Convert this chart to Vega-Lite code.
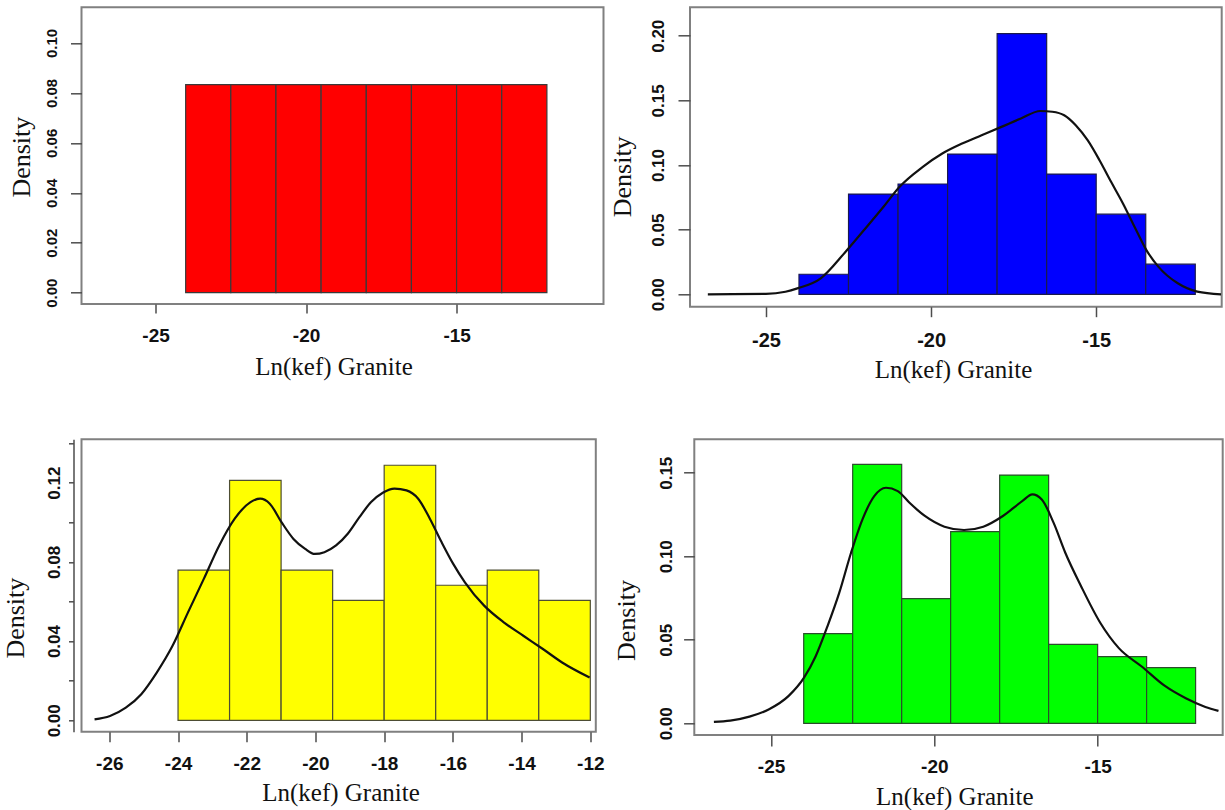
{
  "$schema": "https://vega.github.io/schema/vega-lite/v6.json",
  "background": "white",
  "padding": {"left": 1.5, "top": 6.3, "right": 0, "bottom": 0},
  "datasets": {
    "hist": [
      {"panel": "a", "x": -24, "xe": -22.5, "density": 0.0833},
      {"panel": "a", "x": -22.5, "xe": -21, "density": 0.0833},
      {"panel": "a", "x": -21, "xe": -19.5, "density": 0.0833},
      {"panel": "a", "x": -19.5, "xe": -18, "density": 0.0833},
      {"panel": "a", "x": -18, "xe": -16.5, "density": 0.0833},
      {"panel": "a", "x": -16.5, "xe": -15, "density": 0.0833},
      {"panel": "a", "x": -15, "xe": -13.5, "density": 0.0833},
      {"panel": "a", "x": -13.5, "xe": -12, "density": 0.0833},
      {"panel": "b", "x": -24, "xe": -22.5, "density": 0.0155},
      {"panel": "b", "x": -22.5, "xe": -21, "density": 0.0775},
      {"panel": "b", "x": -21, "xe": -19.5, "density": 0.0853},
      {"panel": "b", "x": -19.5, "xe": -18, "density": 0.1085},
      {"panel": "b", "x": -18, "xe": -16.5, "density": 0.2016},
      {"panel": "b", "x": -16.5, "xe": -15, "density": 0.093},
      {"panel": "b", "x": -15, "xe": -13.5, "density": 0.062},
      {"panel": "b", "x": -13.5, "xe": -12, "density": 0.0233},
      {"panel": "c", "x": -24, "xe": -22.5, "density": 0.0758},
      {"panel": "c", "x": -22.5, "xe": -21, "density": 0.1212},
      {"panel": "c", "x": -21, "xe": -19.5, "density": 0.0758},
      {"panel": "c", "x": -19.5, "xe": -18, "density": 0.0606},
      {"panel": "c", "x": -18, "xe": -16.5, "density": 0.1288},
      {"panel": "c", "x": -16.5, "xe": -15, "density": 0.0682},
      {"panel": "c", "x": -15, "xe": -13.5, "density": 0.0758},
      {"panel": "c", "x": -13.5, "xe": -12, "density": 0.0606},
      {"panel": "d", "x": -24, "xe": -22.5, "density": 0.0537},
      {"panel": "d", "x": -22.5, "xe": -21, "density": 0.155},
      {"panel": "d", "x": -21, "xe": -19.5, "density": 0.0746},
      {"panel": "d", "x": -19.5, "xe": -18, "density": 0.1147},
      {"panel": "d", "x": -18, "xe": -16.5, "density": 0.1486},
      {"panel": "d", "x": -16.5, "xe": -15, "density": 0.0473},
      {"panel": "d", "x": -15, "xe": -13.5, "density": 0.0399},
      {"panel": "d", "x": -13.5, "xe": -12, "density": 0.0333}
    ],
    "curve": [
      {"panel": "b", "x": -26.76, "density": 0.0},
      {"panel": "b", "x": -25.0, "density": 0.0003},
      {"panel": "b", "x": -24.41, "density": 0.002},
      {"panel": "b", "x": -24.05, "density": 0.0046},
      {"panel": "b", "x": -23.34, "density": 0.0124},
      {"panel": "b", "x": -22.62, "density": 0.032},
      {"panel": "b", "x": -22.03, "density": 0.0497},
      {"panel": "b", "x": -21.44, "density": 0.0677},
      {"panel": "b", "x": -20.96, "density": 0.083},
      {"panel": "b", "x": -20.25, "density": 0.0986},
      {"panel": "b", "x": -19.66, "density": 0.1089},
      {"panel": "b", "x": -19.06, "density": 0.1166},
      {"panel": "b", "x": -18.47, "density": 0.123},
      {"panel": "b", "x": -17.87, "density": 0.1295},
      {"panel": "b", "x": -17.28, "density": 0.136},
      {"panel": "b", "x": -16.69, "density": 0.1418},
      {"panel": "b", "x": -16.33, "density": 0.1412},
      {"panel": "b", "x": -15.97, "density": 0.1385},
      {"panel": "b", "x": -15.62, "density": 0.1308},
      {"panel": "b", "x": -15.26, "density": 0.1192},
      {"panel": "b", "x": -14.9, "density": 0.1037},
      {"panel": "b", "x": -14.55, "density": 0.087},
      {"panel": "b", "x": -14.19, "density": 0.0703},
      {"panel": "b", "x": -13.84, "density": 0.0523},
      {"panel": "b", "x": -13.48, "density": 0.0342},
      {"panel": "b", "x": -13.12, "density": 0.0214},
      {"panel": "b", "x": -12.53, "density": 0.0085},
      {"panel": "b", "x": -11.94, "density": 0.0021},
      {"panel": "b", "x": -11.22, "density": 0.0},
      {"panel": "c", "x": -26.43, "density": 0.0005},
      {"panel": "c", "x": -25.98, "density": 0.0022},
      {"panel": "c", "x": -25.52, "density": 0.0064},
      {"panel": "c", "x": -25.07, "density": 0.0132},
      {"panel": "c", "x": -24.62, "density": 0.0241},
      {"panel": "c", "x": -24.16, "density": 0.0376},
      {"panel": "c", "x": -23.71, "density": 0.0545},
      {"panel": "c", "x": -23.25, "density": 0.0714},
      {"panel": "c", "x": -22.8, "density": 0.0883},
      {"panel": "c", "x": -22.35, "density": 0.1018},
      {"panel": "c", "x": -21.89, "density": 0.1102},
      {"panel": "c", "x": -21.61, "density": 0.1119},
      {"panel": "c", "x": -21.33, "density": 0.1094},
      {"panel": "c", "x": -20.99, "density": 0.1001},
      {"panel": "c", "x": -20.64, "density": 0.0916},
      {"panel": "c", "x": -20.3, "density": 0.0866},
      {"panel": "c", "x": -20.02, "density": 0.084},
      {"panel": "c", "x": -19.74, "density": 0.0849},
      {"panel": "c", "x": -19.4, "density": 0.0883},
      {"panel": "c", "x": -19.06, "density": 0.0942},
      {"panel": "c", "x": -18.72, "density": 0.1026},
      {"panel": "c", "x": -18.38, "density": 0.1102},
      {"panel": "c", "x": -18.04, "density": 0.1149},
      {"panel": "c", "x": -17.7, "density": 0.117},
      {"panel": "c", "x": -17.35, "density": 0.1161},
      {"panel": "c", "x": -17.01, "density": 0.1119},
      {"panel": "c", "x": -16.67, "density": 0.1018},
      {"panel": "c", "x": -16.33, "density": 0.09},
      {"panel": "c", "x": -15.99, "density": 0.079},
      {"panel": "c", "x": -15.65, "density": 0.0697},
      {"panel": "c", "x": -15.09, "density": 0.0579},
      {"panel": "c", "x": -14.52, "density": 0.0495},
      {"panel": "c", "x": -13.95, "density": 0.0427},
      {"panel": "c", "x": -13.38, "density": 0.036},
      {"panel": "c", "x": -12.82, "density": 0.0292},
      {"panel": "c", "x": -12.02, "density": 0.0216},
      {"panel": "d", "x": -26.75, "density": 0.0008},
      {"panel": "d", "x": -26.25, "density": 0.0016},
      {"panel": "d", "x": -25.66, "density": 0.004},
      {"panel": "d", "x": -25.06, "density": 0.0084},
      {"panel": "d", "x": -24.46, "density": 0.0164},
      {"panel": "d", "x": -23.99, "density": 0.0273},
      {"panel": "d", "x": -23.63, "density": 0.0403},
      {"panel": "d", "x": -23.27, "density": 0.0582},
      {"panel": "d", "x": -22.91, "density": 0.0782},
      {"panel": "d", "x": -22.55, "density": 0.1021},
      {"panel": "d", "x": -22.2, "density": 0.1221},
      {"panel": "d", "x": -21.84, "density": 0.136},
      {"panel": "d", "x": -21.48, "density": 0.141},
      {"panel": "d", "x": -21.12, "density": 0.139},
      {"panel": "d", "x": -20.76, "density": 0.132},
      {"panel": "d", "x": -20.29, "density": 0.1241},
      {"panel": "d", "x": -19.69, "density": 0.1177},
      {"panel": "d", "x": -19.09, "density": 0.1157},
      {"panel": "d", "x": -18.5, "density": 0.1177},
      {"panel": "d", "x": -17.9, "density": 0.1241},
      {"panel": "d", "x": -17.3, "density": 0.1331},
      {"panel": "d", "x": -17.0, "density": 0.137},
      {"panel": "d", "x": -16.71, "density": 0.134},
      {"panel": "d", "x": -16.35, "density": 0.1201},
      {"panel": "d", "x": -15.99, "density": 0.1021},
      {"panel": "d", "x": -15.51, "density": 0.0822},
      {"panel": "d", "x": -14.92, "density": 0.0602},
      {"panel": "d", "x": -14.35, "density": 0.045},
      {"panel": "d", "x": -13.65, "density": 0.034},
      {"panel": "d", "x": -12.95, "density": 0.0225},
      {"panel": "d", "x": -12.3, "density": 0.015},
      {"panel": "d", "x": -11.7, "density": 0.0098},
      {"panel": "d", "x": -11.3, "density": 0.0074}
    ]
  },
  "config": {
    "view": {"stroke": "#808080", "strokeWidth": 2},
    "axis": {
      "grid": false,
      "domain": false,
      "tickColor": "#4d4d4d",
      "tickWidth": 1.5,
      "labelColor": "#111111",
      "labelFont": "Liberation Sans",
      "labelFontWeight": "bold",
      "titleFont": "Liberation Serif",
      "titleFontWeight": "normal",
      "titleColor": "#111111",
      "labelOverlap": false,
      "labelFlush": false
    },
    "axisX": {"labelAngle": 0, "labelAlign": "center", "labelBaseline": "alphabetic", "titleAngle": 0, "titleAlign": "center", "titleBaseline": "alphabetic", "titleFontSize": 25, "labelExpr": "datum.value < 0 ? '-' + abs(datum.value) : '' + datum.value"},
    "axisY": {"labelAngle": 270, "labelAlign": "center", "labelBaseline": "alphabetic", "titleAngle": 270, "titleAlign": "center", "titleBaseline": "alphabetic", "titleFontSize": 26, "format": ".2f"}
  },
  "spacing": 55,
  "vconcat": [
    {
      "spacing": 4.5,
      "hconcat": [
        {
          "width": 522,
          "height": 296.7,
          "data": {"name": "hist"},
          "transform": [{"filter": "datum.panel === 'a'"}],
          "mark": {"type": "rect", "fill": "#ff0000", "stroke": "#3a3a3a", "strokeWidth": 1.2},
          "encoding": {
            "x": {"field": "x", "type": "quantitative", "scale": {"domain": [-27.46, -10.12], "nice": false, "zero": false},
              "axis": {"title": "Ln(kef) Granite", "values": [-25, -20, -15], "tickSize": 9, "labelPadding": 28.7, "labelFontSize": 19, "titleX": 252, "titleY": 71}},
            "x2": {"field": "xe"},
            "y": {"field": "density", "type": "quantitative", "scale": {"domain": [-0.00453, 0.11429], "nice": false, "zero": false},
              "axis": {"title": "Density", "values": [0, 0.02, 0.04, 0.06, 0.08, 0.1], "tickSize": 11, "labelPadding": 14, "labelFontSize": 15, "titleX": -52, "titleY": 149.4}},
            "y2": {"datum": 0}
          }
        },
        {
          "width": 531.7,
          "height": 299.4,
          "encoding": {
            "x": {"field": "x", "type": "quantitative", "scale": {"domain": [-27.3, -11.2], "nice": false, "zero": false},
              "axis": {"title": "Ln(kef) Granite", "values": [-25, -20, -15], "tickSize": 10, "labelPadding": 30, "labelFontSize": 20, "titleX": 263, "titleY": 70.5}},
            "y": {"field": "density", "type": "quantitative", "scale": {"domain": [-0.0096, 0.222], "nice": false, "zero": false},
              "axis": {"title": "Density", "values": [0, 0.05, 0.1, 0.15, 0.2], "tickSize": 12, "labelPadding": 14, "labelFontSize": 17, "titleX": -59, "titleY": 169}}
          },
          "layer": [
            {
              "data": {"name": "hist"},
              "transform": [{"filter": "datum.panel === 'b'"}],
              "mark": {"type": "rect", "fill": "#0000ff", "stroke": "#1a1a4d", "strokeWidth": 1.2},
              "encoding": {"x2": {"field": "xe"}, "y2": {"datum": 0}}
            },
            {
              "data": {"name": "curve"},
              "transform": [{"filter": "datum.panel === 'b'"}],
              "mark": {"type": "line", "color": "#111111", "strokeWidth": 2.2, "clip": true, "interpolate": "monotone"},
              "encoding": {}
            }
          ]
        }
      ]
    },
    {
      "spacing": 6.8,
      "hconcat": [
        {
          "width": 514.3,
          "height": 292.4,
          "encoding": {
            "x": {"field": "x", "type": "quantitative", "scale": {"domain": [-26.81, -11.84], "nice": false, "zero": false},
              "axis": {"title": "Ln(kef) Granite", "values": [-26, -24, -22, -20, -18, -16, -14, -12], "tickSize": 10, "labelPadding": 27.6, "labelFontSize": 19, "titleX": 259, "titleY": 69.3}},
            "y": {"field": "density", "type": "quantitative", "scale": {"domain": [-0.00576, 0.1419], "nice": false, "zero": false},
              "axis": {"title": "Density", "values": [0, 0.02, 0.04, 0.06, 0.08, 0.1, 0.12, 0.14], "labelExpr": "round(datum.value * 100) % 4 == 0 ? format(datum.value, '.2f') : ''", "domain": true, "domainColor": "#4d4d4d", "domainWidth": 1.5, "offset": 8, "tickSize": 5, "labelPadding": 9, "labelFontSize": 17, "titleX": -50, "titleY": 178.4}}
          },
          "layer": [
            {
              "data": {"name": "hist"},
              "transform": [{"filter": "datum.panel === 'c'"}],
              "mark": {"type": "rect", "fill": "#ffff00", "stroke": "#4d4d33", "strokeWidth": 1.2},
              "encoding": {"x2": {"field": "xe"}, "y2": {"datum": 0}}
            },
            {
              "data": {"name": "curve"},
              "transform": [{"filter": "datum.panel === 'c'"}],
              "mark": {"type": "line", "color": "#111111", "strokeWidth": 2.2, "clip": true, "interpolate": "monotone"},
              "encoding": {}
            }
          ]
        },
        {
          "width": 528.4,
          "height": 295.7,
          "encoding": {
            "x": {"field": "x", "type": "quantitative", "scale": {"domain": [-27.35, -11.17], "nice": false, "zero": false},
              "axis": {"title": "Ln(kef) Granite", "values": [-25, -20, -15], "tickSize": 11, "labelPadding": 26.7, "labelFontSize": 19, "titleX": 260, "titleY": 69.5}},
            "y": {"field": "density", "type": "quantitative", "scale": {"domain": [-0.007, 0.17], "nice": false, "zero": false},
              "axis": {"title": "Density", "values": [0, 0.05, 0.1, 0.15], "tickSize": 10.7, "labelPadding": 11.6, "labelFontSize": 17, "titleX": -60, "titleY": 180.7}}
          },
          "layer": [
            {
              "data": {"name": "hist"},
              "transform": [{"filter": "datum.panel === 'd'"}],
              "mark": {"type": "rect", "fill": "#00ff00", "stroke": "#2b4d2b", "strokeWidth": 1.2},
              "encoding": {"x2": {"field": "xe"}, "y2": {"datum": 0}}
            },
            {
              "data": {"name": "curve"},
              "transform": [{"filter": "datum.panel === 'd'"}],
              "mark": {"type": "line", "color": "#111111", "strokeWidth": 2.2, "clip": true, "interpolate": "monotone"},
              "encoding": {}
            }
          ]
        }
      ]
    }
  ]
}
